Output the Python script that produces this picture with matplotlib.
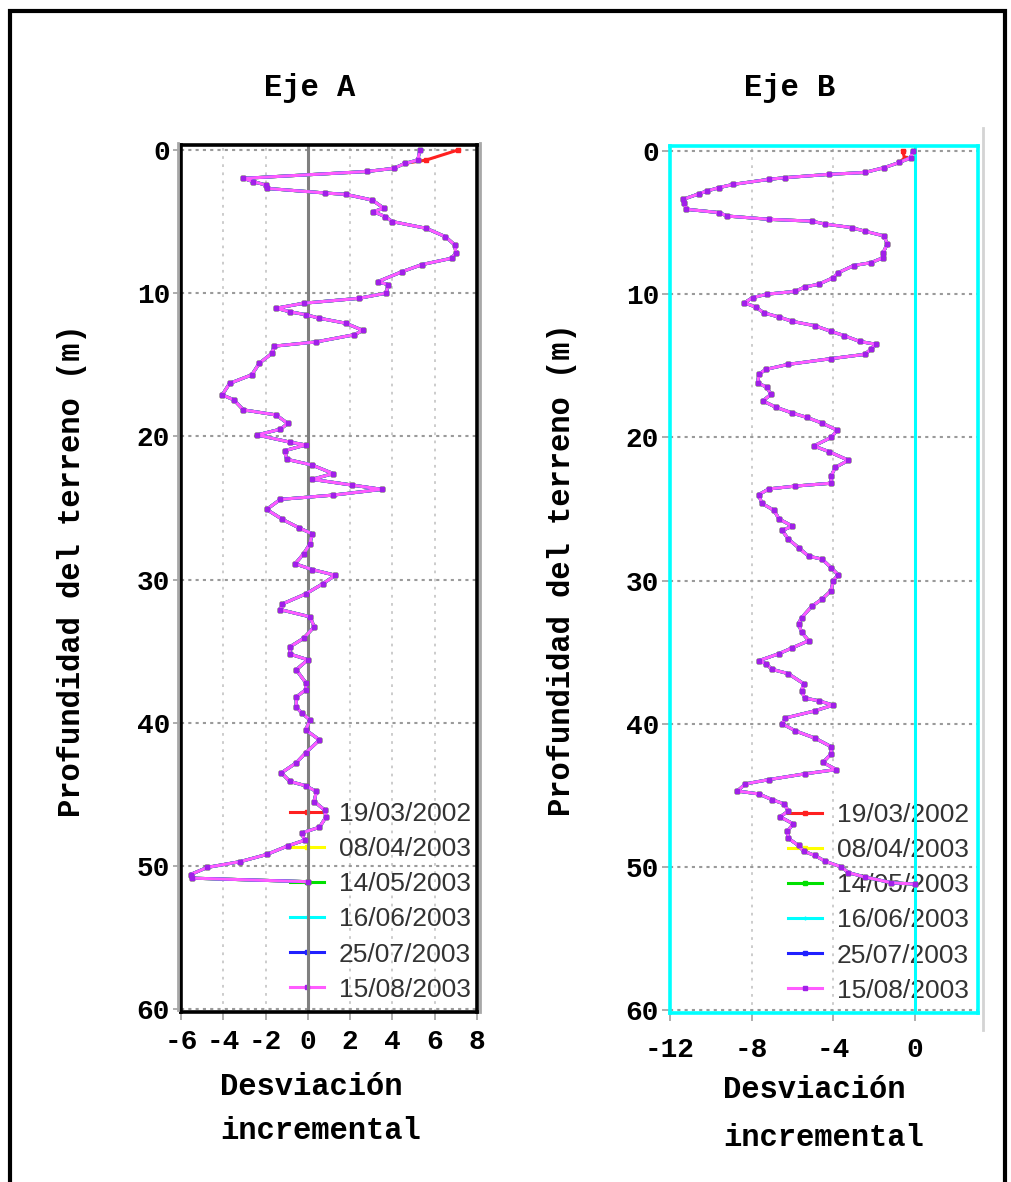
import matplotlib
matplotlib.use("Agg")
import matplotlib.pyplot as plt
from matplotlib.lines import Line2D
from matplotlib.patches import Rectangle

plt.rcParams["axes.unicode_minus"] = False

W, H = 1011, 1182

dates = ["19/03/2002", "08/04/2003", "14/05/2003", "16/06/2003", "25/07/2003", "15/08/2003"]
colors = ["#ff2020", "#ffff00", "#00e000", "#00ffff", "#2020ff", "#ff5cff"]
markers = ["s", "s", "s", "+", "s", "s"]

# Eje A: depth (m) and incremental deviation
depth_A = [0, 0.7, 0.93, 1.28, 1.5, 1.98, 2.2, 2.44, 2.68, 3.0,
           3.1, 3.5, 4.07, 4.3, 4.65, 5.0, 5.47, 6.05, 6.63, 7.2,
           7.56, 8.0, 8.5, 9.2, 9.4, 10.0, 10.36, 10.7, 11.05, 11.3,
           11.5, 11.75, 12.1, 12.6, 12.9, 13.4, 13.7, 14.2, 14.9, 15.7,
           16.3, 17.1, 17.45, 18.15, 18.5, 19.1, 19.5, 19.9, 20.4, 20.6,
           21.0, 21.6, 22.0, 22.6, 23.0, 23.4, 23.7, 24.1, 24.4, 25.1,
           25.8, 26.4, 26.8, 27.5, 28.2, 28.9, 29.3, 29.7, 30.3, 31.0,
           31.7, 32.1, 32.6, 33.3, 34.1, 34.7, 35.2, 35.6, 36.3, 37.2,
           37.7, 38.2, 38.9, 39.3, 39.8, 40.5, 41.2, 42.1, 42.8, 43.5,
           44.1, 44.4, 44.8, 45.5, 46.1, 46.6, 47.3, 47.7, 48.2, 48.6,
           49.2, 49.7, 50.1, 50.6, 50.85, 51.1]
dev_A = [5.3, 5.2, 4.6, 4.06, 2.8, -3.05, -2.6, -2.0, -1.95, 0.8,
         1.8, 3.05, 3.6, 3.1, 3.65, 4.0, 5.6, 6.5, 6.95, 7.0,
         6.8, 5.4, 4.45, 3.3, 3.8, 3.7, 2.4, -0.2, -1.5, -0.85,
         -0.1, 0.55, 1.8, 2.6, 2.2, 0.4, -1.6, -1.7, -2.3, -2.65,
         -3.7, -4.05, -3.5, -3.05, -1.5, -0.95, -1.3, -2.4, -0.85, -0.1,
         -1.1, -1.0, 0.2, 1.2, 0.2, 2.1, 3.5, 1.2, -1.3, -1.95,
         -1.2, -0.4, 0.2, 0.1, -0.2, -0.6, 0.2, 1.3, 0.7, -0.1,
         -1.2, -1.3, 0.1, 0.3, -0.2, -0.85, -0.85, 0.0, -0.55, -0.1,
         -0.1, -0.55, -0.55, -0.3, 0.1, -0.1, 0.55, -0.1, -0.55, -1.25,
         -0.85, -0.1, 0.4, 0.3, 0.8, 0.85, 0.55, -0.3, -0.15, -0.95,
         -1.95, -3.2, -4.75, -5.55, -5.5, 0.0]
first_A_190302 = [7.1, 5.6]

# Eje B
depth_B = [0, 0.47, 0.8, 1.16, 1.5, 1.63, 1.86, 1.98, 2.33, 2.56,
           2.8, 3.0, 3.37, 3.6, 4.07, 4.3, 4.54, 4.77, 4.9, 5.1,
           5.35, 5.6, 5.93, 6.5, 7.1, 7.45, 7.8, 8.0, 8.5, 8.85,
           9.3, 9.5, 9.8, 10.0, 10.24, 10.6, 10.9, 11.3, 11.6, 11.9,
           12.2, 12.6, 12.9, 13.3, 13.5, 13.85, 14.2, 14.5, 14.9, 15.25,
           15.6, 16.2, 16.5, 17.0, 17.45, 17.9, 18.3, 18.6, 19.0, 19.5,
           20.0, 20.6, 21.0, 21.6, 22.1, 22.7, 23.2, 23.4, 23.6, 24.0,
           24.6, 25.1, 25.7, 26.2, 26.5, 27.1, 27.7, 28.3, 28.5, 29.1,
           29.6, 30.0, 30.7, 31.3, 31.8, 32.6, 33.0, 33.6, 34.2, 34.7,
           35.1, 35.6, 35.8, 36.2, 36.5, 37.2, 37.7, 38.2, 38.4, 38.7,
           39.1, 39.6, 40.0, 40.5, 41.0, 41.6, 42.1, 42.7, 43.2, 43.5,
           43.9, 44.2, 44.7, 44.9, 45.3, 45.6, 46.1, 46.5, 47.0, 47.5,
           48.0, 48.5, 48.9, 49.2, 49.6, 50.0, 50.4, 50.7, 51.1, 51.2]
dev_B = [-0.1, -0.2, -0.75, -1.5, -2.45, -4.2, -6.35, -7.15, -8.9, -9.6,
         -10.2, -10.6, -11.35, -11.3, -11.2, -9.6, -9.2, -7.15, -5.05, -4.4,
         -3.1, -2.45, -1.5, -1.35, -1.55, -1.55, -2.15, -3.0, -3.75, -4.0,
         -4.7, -5.4, -5.85, -7.25, -7.95, -8.35, -7.8, -7.4, -6.65, -6.0,
         -4.9, -4.1, -3.45, -2.7, -1.9, -2.15, -2.45, -4.1, -6.2, -7.3,
         -7.65, -7.7, -7.25, -7.05, -7.45, -6.8, -6.0, -5.3, -4.55, -3.8,
         -4.1, -4.95, -4.2, -3.25, -3.9, -4.1, -4.1, -5.85, -7.15, -7.65,
         -7.5, -6.9, -6.65, -6.0, -6.5, -6.2, -5.7, -5.2, -4.55, -4.1,
         -3.75, -4.0, -4.1, -4.55, -5.05, -5.55, -5.7, -5.55, -5.2, -6.0,
         -6.65, -7.65, -7.3, -7.0, -6.2, -5.45, -5.55, -5.4, -4.7, -4.0,
         -4.9, -6.35, -6.5, -5.85, -4.9, -4.1, -4.1, -4.5, -3.85, -5.4,
         -7.15, -8.3, -8.7, -7.65, -7.0, -6.4, -6.2, -6.6, -5.95, -6.25,
         -6.2, -5.7, -5.45, -4.9, -4.4, -3.6, -3.25, -2.45, -1.15, 0.0]
first_B_190302 = [-0.6, -0.5]

mono = "Liberation Mono"
sans = "Liberation Sans"


def px(x, y):
    return x / W, 1 - y / H


def draw(ax, depth, dev, first_red, frame_color, zero_color, xlim, xticks, legend_anchor):
    lines = []
    for i, (d, c, m) in enumerate(zip(dates, colors, markers)):
        vals = list(dev)
        if i == 0:
            vals[:len(first_red)] = first_red
        ln, = ax.plot(vals, depth, color=c, lw=2.2, marker=m, ms=3,
                      mew=1.0, label=d, zorder=3 + i * 0.1)
        lines.append(ln)
    lines[-1].set_markerfacecolor("#a020e8")
    lines[-1].set_markeredgecolor("#a020e8")
    ax.axvline(0, color=zero_color, lw=2.2, zorder=2.5)
    ax.set_xlim(*xlim)
    ax.set_ylim(60.2, -0.35)
    ax.set_xticks(xticks)
    ax.set_yticks(range(0, 61, 10))
    ax.xaxis.grid(True, color="#c8c8c8", ls=(0, (1.5, 3)), lw=1.3)
    ax.yaxis.grid(True, color="#9a9a9a", ls=(0, (1.5, 2)), lw=1.5)
    ax.set_axisbelow(True)
    for s in ax.spines.values():
        s.set_color(frame_color)
        s.set_linewidth(2.6)
        s.set_zorder(6)
    ax.tick_params(axis="both", length=6, color="#a0a0a0", width=1.2)
    ax.tick_params(axis="x", pad=6)
    ax.tick_params(axis="y", pad=2)
    for lab in ax.get_xticklabels() + ax.get_yticklabels():
        lab.set_fontfamily(mono)
        lab.set_fontsize(20)
        lab.set_fontweight("bold")
    leg = ax.legend(loc="lower right", bbox_to_anchor=legend_anchor,
                    bbox_transform=ax.transAxes, frameon=False,
                    prop={"family": sans, "size": 19}, handlelength=1.3,
                    handletextpad=0.55, labelspacing=0.42, borderpad=0,
                    borderaxespad=0)
    for t in leg.get_texts():
        t.set_color("#333333")
    leg.set_zorder(2)


fig = plt.figure(figsize=(W / 100, H / 100), dpi=100)

axA = fig.add_axes([181 / W, 1 - 1012 / H, 296 / W, 867 / H])
axB = fig.add_axes([670 / W, 1 - 1013 / H, 308 / W, 867 / H])

draw(axA, depth_A, dev_A, first_A_190302, "black", "#808080",
     (-6, 8), range(-6, 9, 2), (0.98, 0.012))
draw(axB, depth_B, dev_B, first_B_190302, "#00ffff", "#00ffff",
     (-11.9, 3.1), [-12, -8, -4, 0], (0.97, 0.012))
axB.tick_params(axis="x", pad=11)

# shadows beside the frames
for x, y0, y1, c in [(177.5, 143, 1010, "#a8a8a8"), (480, 143, 1012, "#a8a8a8"),
                     (983, 128, 1030, "#d4d4d4")]:
    fig.add_artist(Line2D([x / W, x / W], [1 - y0 / H, 1 - y1 / H],
                          color=c, lw=2, transform=fig.transFigure))

# outer border
fig.add_artist(Rectangle((10 / W, -0.05), (1005 - 10) / W, 1.05 - 11 / H,
                         transform=fig.transFigure, fill=False,
                         ec="black", lw=3))

tkw = dict(family=mono, fontweight="bold", fontsize=22)
fig.text(*px(310, 88), "Eje A", ha="center", va="center", **tkw)
fig.text(*px(790, 88), "Eje B", ha="center", va="center", **tkw)
fig.text(*px(72, 571), "Profundidad del terreno (m)", rotation=90,
         ha="center", va="center", **tkw)
fig.text(*px(562, 570), "Profundidad del terreno (m)", rotation=90,
         ha="center", va="center", **tkw)
fig.text(*px(220, 1087), "Desviación", ha="left", va="center", **tkw)
fig.text(*px(220, 1131), "incremental", ha="left", va="center", **tkw)
fig.text(*px(723, 1090), "Desviación", ha="left", va="center", **tkw)
fig.text(*px(723, 1138), "incremental", ha="left", va="center", **tkw)

fig.savefig("out.png", dpi=100)
